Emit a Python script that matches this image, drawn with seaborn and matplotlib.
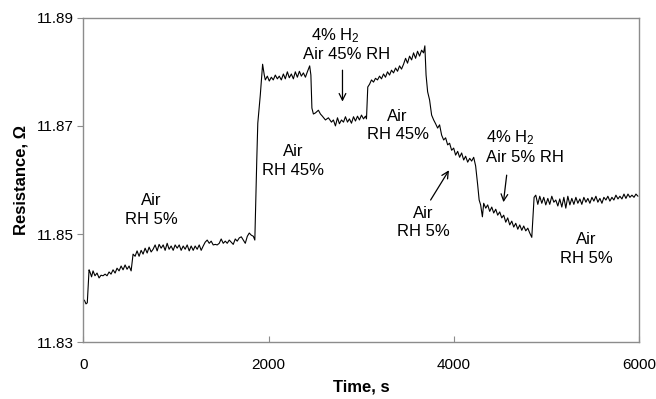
import matplotlib
matplotlib.use("Agg")
import matplotlib.pyplot as plt
import seaborn as sns
import pandas as pd

# ---- data ----
time_s = [
    11, 29, 43, 62, 72, 89, 105, 126, 148, 170, 191, 213, 235, 256, 278, 299, 321, 343, 364, 386,
    408, 429, 451, 472, 494, 516, 537, 559, 580, 602, 624, 645, 667, 689, 710, 732, 753, 775, 797, 818,
    840, 862, 883, 905, 926, 948, 970, 991, 1013, 1035, 1056, 1078, 1099, 1121, 1143, 1164, 1186, 1207, 1229, 1251,
    1272, 1294, 1315, 1337, 1359, 1380, 1402, 1424, 1445, 1467, 1488, 1510, 1532, 1553, 1575, 1597, 1618, 1640, 1661, 1683,
    1705, 1726, 1748, 1770, 1791, 1813, 1835, 1851, 1872, 1883, 1910, 1935, 1953, 1964, 1986, 2007, 2029, 2050, 2072, 2094,
    2115, 2137, 2159, 2180, 2202, 2223, 2245, 2267, 2288, 2310, 2332, 2353, 2375, 2397, 2418, 2443, 2456, 2467, 2483, 2505,
    2537, 2559, 2580, 2613, 2645, 2678, 2699, 2721, 2743, 2764, 2786, 2808, 2829, 2851, 2872, 2894, 2916, 2937, 2959, 2980,
    3002, 3024, 3045, 3056, 3070, 3089, 3110, 3132, 3153, 3175, 3197, 3218, 3240, 3261, 3283, 3305, 3326, 3348, 3370, 3391,
    3413, 3434, 3456, 3478, 3499, 3521, 3543, 3564, 3586, 3607, 3629, 3651, 3672, 3686, 3699, 3716, 3737, 3759, 3781, 3802,
    3824, 3845, 3867, 3889, 3910, 3932, 3953, 3975, 3997, 4018, 4040, 4061, 4083, 4105, 4126, 4148, 4170, 4191, 4213, 4234,
    4256, 4272, 4288, 4307, 4321, 4343, 4364, 4386, 4408, 4429, 4451, 4472, 4494, 4516, 4537, 4559, 4580, 4602, 4624, 4645,
    4667, 4689, 4710, 4732, 4753, 4775, 4797, 4818, 4840, 4865, 4883, 4905, 4926, 4948, 4969, 4991, 5013, 5034, 5056, 5078,
    5099, 5121, 5142, 5164, 5186, 5207, 5229, 5251, 5272, 5294, 5316, 5337, 5359, 5380, 5402, 5424, 5445, 5467, 5489, 5510,
    5532, 5553, 5575, 5597, 5618, 5640, 5661, 5683, 5705, 5726, 5748, 5770, 5791, 5813, 5835, 5856, 5878, 5899, 5921, 5943,
    5964, 5986,
]
resistance_ohm = [
    11.8378, 11.8371, 11.8373, 11.8434, 11.8430, 11.8421, 11.8432, 11.8423, 11.8428, 11.8419,
    11.8424, 11.8423, 11.8426, 11.8423, 11.8430, 11.8426, 11.8434, 11.8428, 11.8437, 11.8432,
    11.8441, 11.8434, 11.8443, 11.8435, 11.8441, 11.8432, 11.8463, 11.8459, 11.8469, 11.8459,
    11.8470, 11.8463, 11.8474, 11.8465, 11.8476, 11.8467, 11.8472, 11.8480, 11.8469, 11.8481,
    11.8474, 11.8480, 11.8470, 11.8483, 11.8472, 11.8478, 11.8470, 11.8480, 11.8474, 11.8480,
    11.8470, 11.8478, 11.8472, 11.8480, 11.8469, 11.8478, 11.8470, 11.8478, 11.8472, 11.8480,
    11.8470, 11.8478, 11.8485, 11.8489, 11.8483, 11.8487, 11.8480, 11.8481, 11.8480, 11.8483,
    11.8491, 11.8483, 11.8487, 11.8483, 11.8489, 11.8485, 11.8481, 11.8491, 11.8487, 11.8493,
    11.8495, 11.8489, 11.8483, 11.8496, 11.8502, 11.8498, 11.8496, 11.8489, 11.8637, 11.8705,
    11.8757, 11.8814, 11.8794, 11.8785, 11.8792, 11.8783, 11.8790, 11.8785, 11.8794, 11.8787,
    11.8792, 11.8785, 11.8796, 11.8787, 11.8800, 11.8789, 11.8796, 11.8787, 11.8800, 11.8790,
    11.8801, 11.8792, 11.8798, 11.8790, 11.8800, 11.8811, 11.8794, 11.8733, 11.8722, 11.8724,
    11.8729, 11.8722, 11.8718, 11.8711, 11.8715, 11.8707, 11.8711, 11.8700, 11.8715, 11.8704,
    11.8711, 11.8707, 11.8717, 11.8707, 11.8713, 11.8705, 11.8717, 11.8709, 11.8718, 11.8711,
    11.8720, 11.8713, 11.8718, 11.8713, 11.8772, 11.8777, 11.8785, 11.8781, 11.8788, 11.8785,
    11.8792, 11.8787, 11.8796, 11.8790, 11.8800, 11.8794, 11.8803, 11.8798, 11.8807, 11.8801,
    11.8811, 11.8805, 11.8814, 11.8825, 11.8816, 11.8829, 11.8822, 11.8835, 11.8825, 11.8838,
    11.8829, 11.8840, 11.8835, 11.8848, 11.8794, 11.8763, 11.8748, 11.8720, 11.8711, 11.8704,
    11.8696, 11.8702, 11.8683, 11.8674, 11.8678, 11.8665, 11.8668, 11.8655, 11.8659, 11.8646,
    11.8653, 11.8642, 11.8650, 11.8637, 11.8644, 11.8633, 11.8640, 11.8635, 11.8642, 11.8626,
    11.8591, 11.8563, 11.8554, 11.8532, 11.8557, 11.8548, 11.8554, 11.8542, 11.8550, 11.8539,
    11.8546, 11.8535, 11.8541, 11.8530, 11.8535, 11.8522, 11.8530, 11.8517, 11.8524, 11.8513,
    11.8520, 11.8509, 11.8517, 11.8507, 11.8515, 11.8506, 11.8511, 11.8502, 11.8494, 11.8568,
    11.8572, 11.8555, 11.8570, 11.8557, 11.8568, 11.8554, 11.8566, 11.8555, 11.8570, 11.8559,
    11.8563, 11.8552, 11.8565, 11.8550, 11.8568, 11.8548, 11.8570, 11.8554, 11.8566, 11.8555,
    11.8568, 11.8557, 11.8565, 11.8555, 11.8568, 11.8559, 11.8566, 11.8557, 11.8568, 11.8561,
    11.8570, 11.8559, 11.8566, 11.8557, 11.8568, 11.8563, 11.8570, 11.8561, 11.8568, 11.8563,
    11.8572, 11.8565, 11.8570, 11.8565, 11.8574, 11.8566, 11.8574, 11.8568, 11.8572, 11.8568,
    11.8574, 11.8570,
]
x_ticks = [0, 2000, 4000, 6000]
y_ticks = [11.83, 11.85, 11.87, 11.89]
y_tick_labels = ["11.83", "11.85", "11.87", "11.89"]

df = pd.DataFrame({"Time": time_s, "Resistance": resistance_ohm})

sns.set_theme(style="white")
plt.rcParams["font.family"] = ["Liberation Sans", "DejaVu Sans"]
plt.rcParams["mathtext.fontset"] = "custom"
plt.rcParams["mathtext.rm"] = "Liberation Sans"
plt.rcParams["mathtext.it"] = "Liberation Sans:italic"
plt.rcParams["mathtext.bf"] = "Liberation Sans:bold"
plt.rcParams["text.color"] = "black"
plt.rcParams["axes.labelcolor"] = "black"

fig = plt.figure(figsize=(6.56, 3.99), dpi=100)
ax = fig.add_axes([0.127, 0.1421, 0.8475, 0.8135])

sns.lineplot(data=df, x="Time", y="Resistance", ax=ax, color="black",
             linewidth=0.8, estimator=None, sort=False)

ax.set_xlim(0, 6000)
ax.set_ylim(11.83, 11.89)
ax.set_xticks(x_ticks)
ax.set_xticklabels([str(v) for v in x_ticks])
ax.set_yticks(y_ticks)
ax.set_yticklabels(y_tick_labels)

for sp in ax.spines.values():
    sp.set_color("#8c8c8c")
    sp.set_linewidth(1.0)
    sp.set_visible(True)

ax.tick_params(axis="x", direction="in", length=4, width=0.8, color="#8c8c8c",
               labelsize=11, pad=11, labelcolor="black", bottom=True)
ax.tick_params(axis="y", direction="out", length=4, width=0.8, color="#8c8c8c",
               labelsize=11, pad=3, labelcolor="black", left=True)

ax.set_xlabel("Time, s", fontsize=12, fontweight="bold", labelpad=6, color="black")
ax.set_ylabel("Resistance, Ω", fontsize=12, fontweight="bold", labelpad=6, color="black")

fs = 12
txt = dict(fontsize=fs, color="black", va="center", linespacing=1.3)
ax.text(732, 11.85446, "Air\nRH 5%", ha="center", **txt)
ax.text(2267, 11.86351, "Air\nRH 45%", ha="center", **txt)
ax.text(2458, 11.88662, "4% H$_2$", ha="left", fontsize=fs, va="center", color="black")
ax.text(2372, 11.88311, "Air 45% RH", ha="left", fontsize=fs, va="center", color="black")
ax.text(3391, 11.87007, "Air\nRH 45%", ha="center", **txt)
ax.text(4350, 11.86776, "4% H$_2$", ha="left", fontsize=fs, va="center", color="black")
ax.text(4350, 11.86407, "Air 5% RH", ha="left", fontsize=fs, va="center", color="black")
ax.text(3667, 11.85214, "Air\nRH 5%", ha="center", **txt)
ax.text(5429, 11.84725, "Air\nRH 5%", ha="center", **txt)

arrow = dict(arrowstyle="->", color="black", lw=0.9, shrinkA=0, shrinkB=0)
ax.annotate("", xy=(2797, 11.8745), xytext=(2797, 11.8803), arrowprops=arrow)
ax.annotate("", xy=(4534, 11.8559), xytext=(4569, 11.8609), arrowprops=arrow)
ax.annotate("", xy=(3946, 11.8618), xytext=(3748, 11.8563), arrowprops=arrow)

fig.savefig("out.png", dpi=100, facecolor="white")
